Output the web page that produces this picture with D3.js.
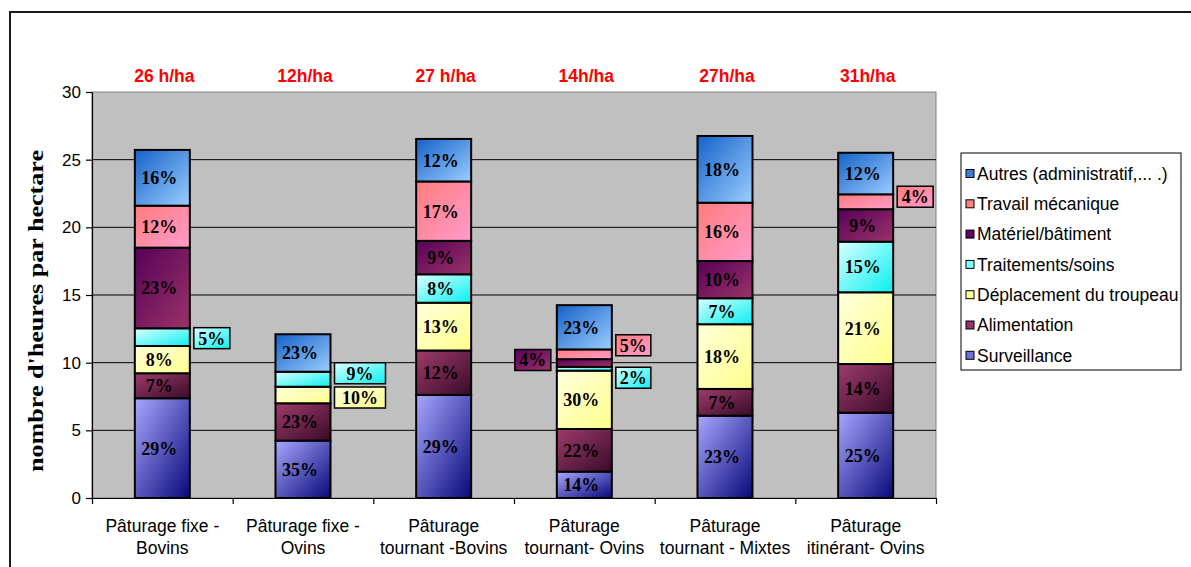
<!DOCTYPE html>
<html>
<head>
<meta charset="utf-8">
<script src="https://cdn.jsdelivr.net/npm/d3@7"></script>
<style>
  body { margin: 0; background: #fff; }
  svg { display: block; }
</style>
</head>
<body>
<svg id="chart" width="1191" height="567"></svg>
<script>
// ---- Data: hours per hectare by task, for each grazing system ----
const categories = [
  "Pâturage fixe -\nBovins",
  "Pâturage fixe -\nOvins",
  "Pâturage\ntournant -Bovins",
  "Pâturage\ntournant- Ovins",
  "Pâturage\ntournant - Mixtes",
  "Pâturage\nitinérant- Ovins"
];
const totalLabels = ["26 h/ha", "12h/ha", "27 h/ha", "14h/ha", "27h/ha", "31h/ha"];

const seriesNames = [
  "Surveillance",
  "Alimentation",
  "Déplacement du troupeau",
  "Traitements/soins",
  "Matériel/bâtiment",
  "Travail mécanique",
  "Autres (administratif,... .)"
];
const surveillance = [7.37, 4.24, 7.62, 1.95, 6.08, 6.30];
const alimentation = [1.85, 2.76, 3.28, 3.15, 1.98, 3.60];
const deplacement  = [2.01, 1.22, 3.53, 4.31, 4.78, 5.30];
const traitements  = [1.31, 1.11, 2.10, 0.28, 1.92, 3.74];
const materiel     = [5.96, 0.00, 2.47, 0.57, 2.75, 2.40];
const travail      = [3.10, 0.00, 4.39, 0.72, 4.31, 1.10];
const autres       = [4.12, 2.77, 3.14, 3.27, 4.93, 3.07];
const seriesValues = [surveillance, alimentation, deplacement, traitements, materiel, travail, autres];

const yTicks = [0, 5, 10, 15, 20, 25, 30];
const yTitle = "nombre d'heures par hectare";

// ---- Styles ----
const gradientStops = [
  ["#a8a8ff", "#08087a"],  // Surveillance
  ["#9e3c6c", "#3a0a28"],  // Alimentation
  ["#ffffdc", "#ffff8c"],  // Déplacement
  ["#dcffff", "#08f0f0"],  // Traitements
  ["#580058", "#9a3468"],  // Matériel
  ["#ff7c7c", "#ff9ccc"],  // Travail
  ["#1462c8", "#9ccdff"]   // Autres
];
const legendColors = ["#6f6fe0", "#993366", "#ffff99", "#7ffcff", "#660066", "#ff8080", "#3f7dd6"];

// Small segments whose share is written in a box beside the bar
const sideLabels = [
  { cat: 0, s: 3, side: "right", dy: 1,   w: 36 },
  { cat: 1, s: 3, side: "right", dy: -6,  w: 51 },
  { cat: 1, s: 2, side: "right", dy: 2.5, w: 51 },
  { cat: 3, s: 4, side: "left",  dy: -3,  w: 36 },
  { cat: 3, s: 5, side: "right", dy: -9,  w: 35 },
  { cat: 3, s: 3, side: "right", dy: 9,   w: 35 },
  { cat: 5, s: 5, side: "right", dy: -5,  w: 36 }
];

const SANS = "'Liberation Sans', Arial, sans-serif";
const SERIF = "'Liberation Serif', 'Times New Roman', serif";

const svg = d3.select("#chart");
svg.append("rect").attr("width", 1191).attr("height", 567).attr("fill", "#fff");

// Outer frame
svg.append("path")
  .attr("d", "M10,567 V12 H1191")
  .attr("fill", "none").attr("stroke", "#1a1a1a").attr("stroke-width", 2);

const plot = { left: 92, right: 936, top: 92, bottom: 498 };

const x = d3.scaleBand()
  .domain(d3.range(categories.length))
  .range([plot.left, plot.right])
  .paddingInner(0.609)
  .paddingOuter(0.3045);
const y = d3.scaleLinear().domain([0, 30]).range([plot.bottom, plot.top]);

// Gradients
const defs = svg.append("defs");
gradientStops.forEach((st, i) => {
  const g = defs.append("linearGradient").attr("id", "g" + i)
    .attr("x1", 0).attr("y1", 0).attr("x2", 1).attr("y2", 1);
  g.append("stop").attr("offset", "0%").attr("stop-color", st[0]);
  g.append("stop").attr("offset", "100%").attr("stop-color", st[1]);
});

// Plot background
svg.append("rect")
  .attr("x", plot.left).attr("y", plot.top)
  .attr("width", plot.right - plot.left).attr("height", plot.bottom - plot.top)
  .attr("fill", "#c0c0c0").attr("stroke", "#808080").attr("stroke-width", 1);

// Gridlines
svg.append("g").selectAll("line")
  .data(yTicks.filter(t => t > 0 && t < 30))
  .join("line")
  .attr("x1", plot.left).attr("x2", plot.right)
  .attr("y1", d => y(d)).attr("y2", d => y(d))
  .attr("stroke", "#000").attr("stroke-width", 1);

// Y axis
const yAxis = svg.append("g")
  .attr("transform", `translate(${plot.left},0)`)
  .call(d3.axisLeft(y).tickValues(yTicks).tickSize(6).tickSizeOuter(0).tickPadding(5));
yAxis.select(".domain").attr("stroke", "#000").attr("stroke-width", 1.2);
yAxis.selectAll(".tick line").attr("stroke", "#000").attr("stroke-width", 1.2);
yAxis.selectAll(".tick text")
  .attr("font-family", SANS).attr("font-size", 17).attr("fill", "#000");

// X axis (ticks at category boundaries)
const xb = d3.scaleLinear().domain([0, categories.length]).range([plot.left, plot.right]);
const xAxis = svg.append("g")
  .attr("transform", `translate(0,${plot.bottom})`)
  .call(d3.axisBottom(xb).tickValues(d3.range(categories.length + 1)).tickFormat("").tickSize(6).tickSizeOuter(0));
xAxis.select(".domain").attr("stroke", "#000").attr("stroke-width", 1.2);
xAxis.selectAll(".tick line").attr("stroke", "#000").attr("stroke-width", 1.2);

// Category labels
const catG = svg.append("g");
categories.forEach((c, i) => {
  const t = catG.append("text")
    .attr("x", x(i) + x.bandwidth() / 2)
    .attr("y", 532)
    .attr("text-anchor", "middle")
    .attr("font-family", SANS).attr("font-size", 17.5).attr("fill", "#000");
  c.split("\n").forEach((line, k) => {
    t.append("tspan").attr("x", x(i) + x.bandwidth() / 2).attr("dy", k === 0 ? 0 : 22).text(line);
  });
});

// Stack the series
const rows = categories.map((c, i) => {
  const r = { i };
  seriesValues.forEach((arr, s) => r[s] = arr[i]);
  return r;
});
const stack = d3.stack().keys(d3.range(seriesValues.length));
const stacked = stack(rows);
const totals = rows.map((r, i) => d3.sum(seriesValues, arr => arr[i]));

const outside = new Set(sideLabels.map(d => d.cat + "-" + d.s));

const barsG = svg.append("g");
stacked.forEach((layer, s) => {
  barsG.append("g").selectAll("rect")
    .data(layer.filter(d => d[1] - d[0] > 0))
    .join("rect")
    .attr("x", d => x(d.data.i))
    .attr("y", d => y(d[1]))
    .attr("width", x.bandwidth())
    .attr("height", d => y(d[0]) - y(d[1]))
    .attr("fill", `url(#g${s})`)
    .attr("stroke", "#000").attr("stroke-width", 2);
});

const pct = (s, i) => Math.round(seriesValues[s][i] / totals[i] * 100) + "%";

// Percentage labels inside segments
const labG = svg.append("g");
stacked.forEach((layer, s) => {
  layer.forEach(d => {
    const i = d.data.i;
    if (d[1] - d[0] <= 0 || outside.has(i + "-" + s)) return;
    labG.append("text")
      .attr("x", x(i) + x.bandwidth() / 2 - 3)
      .attr("y", (y(d[0]) + y(d[1])) / 2)
      .attr("dy", "0.36em")
      .attr("text-anchor", "middle")
      .attr("font-family", SERIF).attr("font-weight", "bold").attr("font-size", 18)
      .attr("fill", "#000")
      .text(pct(s, i));
  });
});

// Boxed labels beside thin segments
sideLabels.forEach(o => {
  const d = stacked[o.s][o.cat];
  const cy = (y(d[0]) + y(d[1])) / 2 + o.dy;
  const h = 21;
  const bx = o.side === "right" ? x(o.cat) + x.bandwidth() + 4 : x(o.cat) - 6 - o.w;
  labG.append("rect")
    .attr("x", bx).attr("y", cy - h / 2).attr("width", o.w).attr("height", h)
    .attr("fill", `url(#g${o.s})`).attr("stroke", "#000").attr("stroke-width", 1.5);
  labG.append("text")
    .attr("x", bx + o.w / 2).attr("y", cy).attr("dy", "0.36em")
    .attr("text-anchor", "middle")
    .attr("font-family", SERIF).attr("font-weight", "bold").attr("font-size", 18)
    .attr("fill", "#000")
    .text(pct(o.s, o.cat));
});

// Totals above bars
svg.append("g").selectAll("text")
  .data(totalLabels)
  .join("text")
  .attr("x", (d, i) => x(i) + x.bandwidth() / 2 + 2)
  .attr("y", 82)
  .attr("text-anchor", "middle")
  .attr("font-family", SANS).attr("font-weight", "bold").attr("font-size", 17.5)
  .attr("fill", "#ff0000")
  .text(d => d);

// Y axis title
svg.append("text")
  .attr("transform", "translate(43,311) rotate(-90)")
  .attr("text-anchor", "middle")
  .attr("font-family", SERIF).attr("font-weight", "bold").attr("font-size", 20)
  .attr("textLength", 322).attr("lengthAdjust", "spacingAndGlyphs")
  .attr("fill", "#000")
  .text(yTitle);

// Legend
const legend = svg.append("g");
legend.append("rect")
  .attr("x", 961).attr("y", 153).attr("width", 220).attr("height", 217)
  .attr("fill", "#fff").attr("stroke", "#000").attr("stroke-width", 1);
const legendOrder = d3.range(seriesNames.length).reverse();
legendOrder.forEach((s, k) => {
  const cy = 173.5 + k * 30.3;
  legend.append("rect")
    .attr("x", 966).attr("y", cy - 4).attr("width", 8).attr("height", 8)
    .attr("fill", legendColors[s]).attr("stroke", "#000").attr("stroke-width", 1);
  legend.append("text")
    .attr("x", 977).attr("y", cy).attr("dy", "0.36em")
    .attr("font-family", SANS).attr("font-size", 17.5).attr("fill", "#000")
    .text(seriesNames[s]);
});
</script>
</body>
</html>
